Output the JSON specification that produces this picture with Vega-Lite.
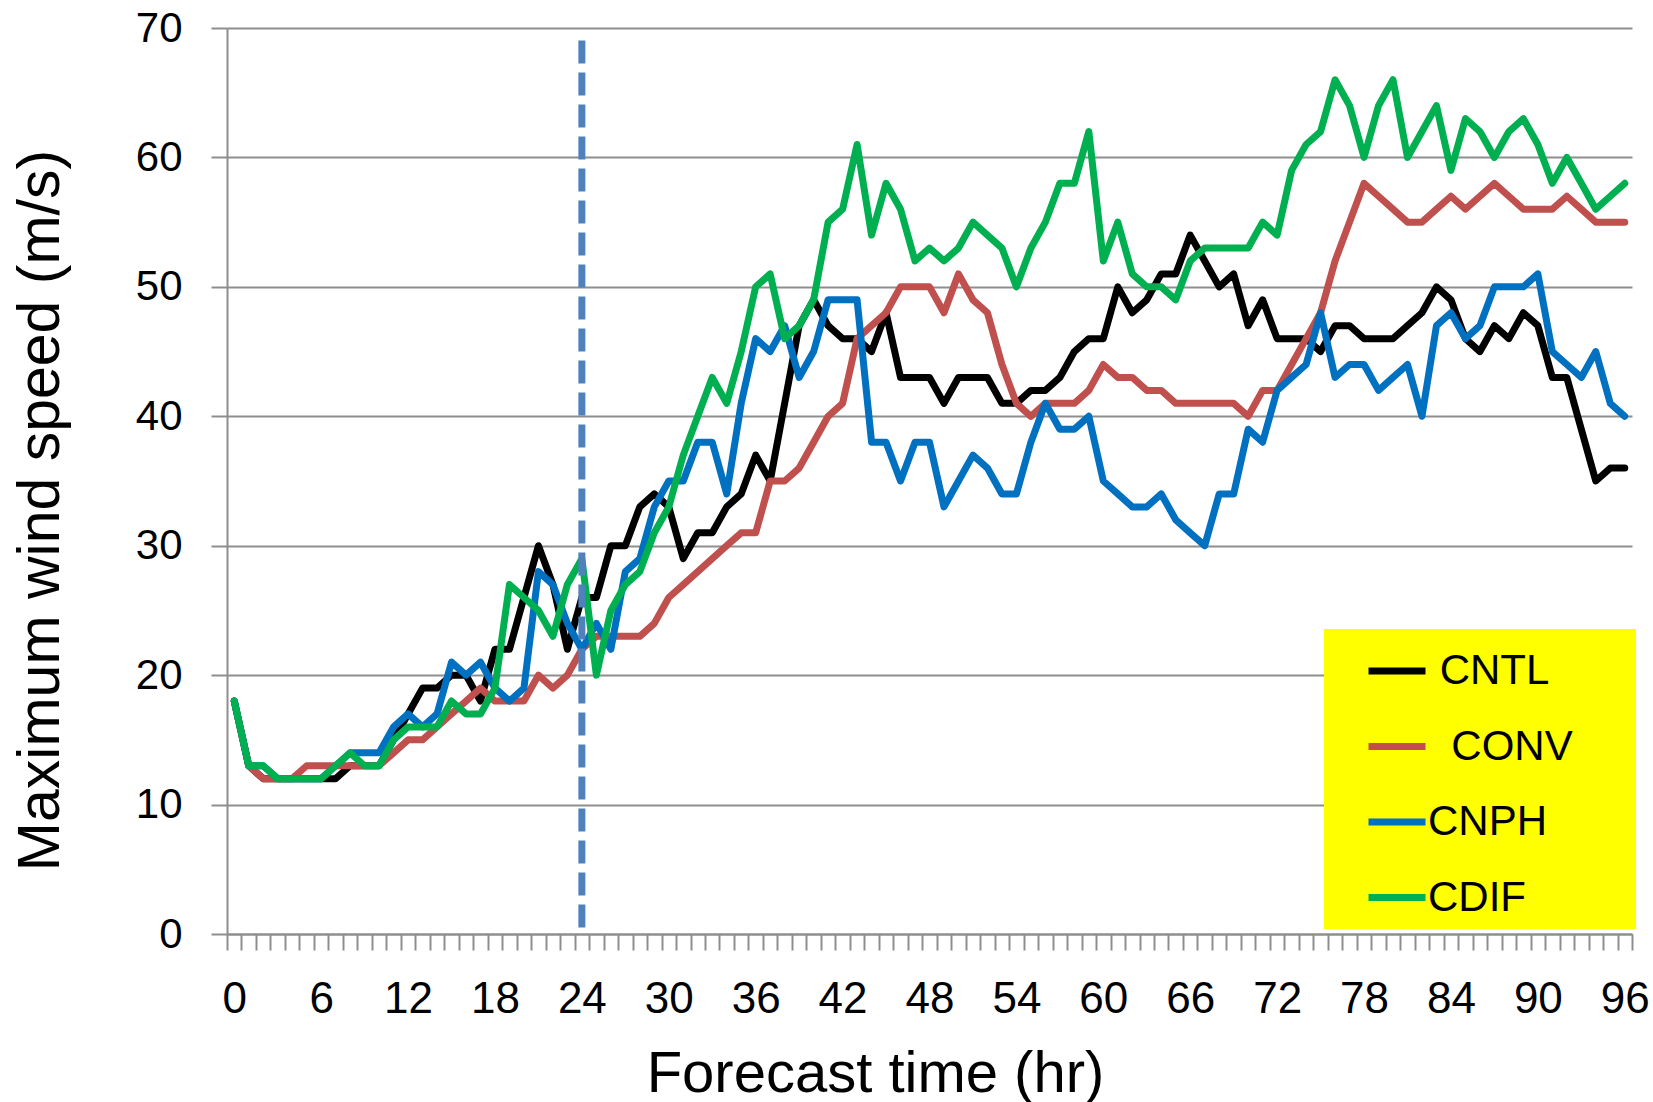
{
  "$schema": "https://vega.github.io/schema/vega-lite/v6.json",
  "width": 1405,
  "height": 906,
  "autosize": {"type": "none"},
  "padding": {"left": 227, "top": 28, "right": 21, "bottom": 168},
  "background": "white",
  "config": {"view": {"stroke": null}, "font": "Liberation Sans"},
  "data": {"values": [
    {"hour":0,"CNTL":18,"CONV":18,"CNPH":18,"CDIF":18},
    {"hour":1,"CNTL":13,"CONV":13,"CNPH":13,"CDIF":13},
    {"hour":2,"CNTL":12,"CONV":12,"CNPH":13,"CDIF":13},
    {"hour":3,"CNTL":12,"CONV":12,"CNPH":12,"CDIF":12},
    {"hour":4,"CNTL":12,"CONV":12,"CNPH":12,"CDIF":12},
    {"hour":5,"CNTL":12,"CONV":13,"CNPH":12,"CDIF":12},
    {"hour":6,"CNTL":12,"CONV":13,"CNPH":12,"CDIF":12},
    {"hour":7,"CNTL":12,"CONV":13,"CNPH":13,"CDIF":13},
    {"hour":8,"CNTL":13,"CONV":13,"CNPH":14,"CDIF":14},
    {"hour":9,"CNTL":13,"CONV":13,"CNPH":14,"CDIF":13},
    {"hour":10,"CNTL":13,"CONV":13,"CNPH":14,"CDIF":13},
    {"hour":11,"CNTL":15,"CONV":14,"CNPH":16,"CDIF":15},
    {"hour":12,"CNTL":17,"CONV":15,"CNPH":17,"CDIF":16},
    {"hour":13,"CNTL":19,"CONV":15,"CNPH":16,"CDIF":16},
    {"hour":14,"CNTL":19,"CONV":16,"CNPH":17,"CDIF":16},
    {"hour":15,"CNTL":20,"CONV":17,"CNPH":21,"CDIF":18},
    {"hour":16,"CNTL":20,"CONV":18,"CNPH":20,"CDIF":17},
    {"hour":17,"CNTL":18,"CONV":19,"CNPH":21,"CDIF":17},
    {"hour":18,"CNTL":22,"CONV":18,"CNPH":19,"CDIF":19},
    {"hour":19,"CNTL":22,"CONV":18,"CNPH":18,"CDIF":27},
    {"hour":20,"CNTL":26,"CONV":18,"CNPH":19,"CDIF":26},
    {"hour":21,"CNTL":30,"CONV":20,"CNPH":28,"CDIF":25},
    {"hour":22,"CNTL":27,"CONV":19,"CNPH":27,"CDIF":23},
    {"hour":23,"CNTL":22,"CONV":20,"CNPH":24,"CDIF":27},
    {"hour":24,"CNTL":26,"CONV":22,"CNPH":22,"CDIF":29},
    {"hour":25,"CNTL":26,"CONV":23,"CNPH":24,"CDIF":20},
    {"hour":26,"CNTL":30,"CONV":23,"CNPH":22,"CDIF":25},
    {"hour":27,"CNTL":30,"CONV":23,"CNPH":28,"CDIF":27},
    {"hour":28,"CNTL":33,"CONV":23,"CNPH":29,"CDIF":28},
    {"hour":29,"CNTL":34,"CONV":24,"CNPH":33,"CDIF":31},
    {"hour":30,"CNTL":33,"CONV":26,"CNPH":35,"CDIF":33},
    {"hour":31,"CNTL":29,"CONV":27,"CNPH":35,"CDIF":37},
    {"hour":32,"CNTL":31,"CONV":28,"CNPH":38,"CDIF":40},
    {"hour":33,"CNTL":31,"CONV":29,"CNPH":38,"CDIF":43},
    {"hour":34,"CNTL":33,"CONV":30,"CNPH":34,"CDIF":41},
    {"hour":35,"CNTL":34,"CONV":31,"CNPH":41,"CDIF":45},
    {"hour":36,"CNTL":37,"CONV":31,"CNPH":46,"CDIF":50},
    {"hour":37,"CNTL":35,"CONV":35,"CNPH":45,"CDIF":51},
    {"hour":38,"CNTL":41,"CONV":35,"CNPH":47,"CDIF":46},
    {"hour":39,"CNTL":47,"CONV":36,"CNPH":43,"CDIF":47},
    {"hour":40,"CNTL":49,"CONV":38,"CNPH":45,"CDIF":49},
    {"hour":41,"CNTL":47,"CONV":40,"CNPH":49,"CDIF":55},
    {"hour":42,"CNTL":46,"CONV":41,"CNPH":49,"CDIF":56},
    {"hour":43,"CNTL":46,"CONV":46,"CNPH":49,"CDIF":61},
    {"hour":44,"CNTL":45,"CONV":47,"CNPH":38,"CDIF":54},
    {"hour":45,"CNTL":48,"CONV":48,"CNPH":38,"CDIF":58},
    {"hour":46,"CNTL":43,"CONV":50,"CNPH":35,"CDIF":56},
    {"hour":47,"CNTL":43,"CONV":50,"CNPH":38,"CDIF":52},
    {"hour":48,"CNTL":43,"CONV":50,"CNPH":38,"CDIF":53},
    {"hour":49,"CNTL":41,"CONV":48,"CNPH":33,"CDIF":52},
    {"hour":50,"CNTL":43,"CONV":51,"CNPH":35,"CDIF":53},
    {"hour":51,"CNTL":43,"CONV":49,"CNPH":37,"CDIF":55},
    {"hour":52,"CNTL":43,"CONV":48,"CNPH":36,"CDIF":54},
    {"hour":53,"CNTL":41,"CONV":44,"CNPH":34,"CDIF":53},
    {"hour":54,"CNTL":41,"CONV":41,"CNPH":34,"CDIF":50},
    {"hour":55,"CNTL":42,"CONV":40,"CNPH":38,"CDIF":53},
    {"hour":56,"CNTL":42,"CONV":41,"CNPH":41,"CDIF":55},
    {"hour":57,"CNTL":43,"CONV":41,"CNPH":39,"CDIF":58},
    {"hour":58,"CNTL":45,"CONV":41,"CNPH":39,"CDIF":58},
    {"hour":59,"CNTL":46,"CONV":42,"CNPH":40,"CDIF":62},
    {"hour":60,"CNTL":46,"CONV":44,"CNPH":35,"CDIF":52},
    {"hour":61,"CNTL":50,"CONV":43,"CNPH":34,"CDIF":55},
    {"hour":62,"CNTL":48,"CONV":43,"CNPH":33,"CDIF":51},
    {"hour":63,"CNTL":49,"CONV":42,"CNPH":33,"CDIF":50},
    {"hour":64,"CNTL":51,"CONV":42,"CNPH":34,"CDIF":50},
    {"hour":65,"CNTL":51,"CONV":41,"CNPH":32,"CDIF":49},
    {"hour":66,"CNTL":54,"CONV":41,"CNPH":31,"CDIF":52},
    {"hour":67,"CNTL":52,"CONV":41,"CNPH":30,"CDIF":53},
    {"hour":68,"CNTL":50,"CONV":41,"CNPH":34,"CDIF":53},
    {"hour":69,"CNTL":51,"CONV":41,"CNPH":34,"CDIF":53},
    {"hour":70,"CNTL":47,"CONV":40,"CNPH":39,"CDIF":53},
    {"hour":71,"CNTL":49,"CONV":42,"CNPH":38,"CDIF":55},
    {"hour":72,"CNTL":46,"CONV":42,"CNPH":42,"CDIF":54},
    {"hour":73,"CNTL":46,"CONV":44,"CNPH":43,"CDIF":59},
    {"hour":74,"CNTL":46,"CONV":46,"CNPH":44,"CDIF":61},
    {"hour":75,"CNTL":45,"CONV":48,"CNPH":48,"CDIF":62},
    {"hour":76,"CNTL":47,"CONV":52,"CNPH":43,"CDIF":66},
    {"hour":77,"CNTL":47,"CONV":55,"CNPH":44,"CDIF":64},
    {"hour":78,"CNTL":46,"CONV":58,"CNPH":44,"CDIF":60},
    {"hour":79,"CNTL":46,"CONV":57,"CNPH":42,"CDIF":64},
    {"hour":80,"CNTL":46,"CONV":56,"CNPH":43,"CDIF":66},
    {"hour":81,"CNTL":47,"CONV":55,"CNPH":44,"CDIF":60},
    {"hour":82,"CNTL":48,"CONV":55,"CNPH":40,"CDIF":62},
    {"hour":83,"CNTL":50,"CONV":56,"CNPH":47,"CDIF":64},
    {"hour":84,"CNTL":49,"CONV":57,"CNPH":48,"CDIF":59},
    {"hour":85,"CNTL":46,"CONV":56,"CNPH":46,"CDIF":63},
    {"hour":86,"CNTL":45,"CONV":57,"CNPH":47,"CDIF":62},
    {"hour":87,"CNTL":47,"CONV":58,"CNPH":50,"CDIF":60},
    {"hour":88,"CNTL":46,"CONV":57,"CNPH":50,"CDIF":62},
    {"hour":89,"CNTL":48,"CONV":56,"CNPH":50,"CDIF":63},
    {"hour":90,"CNTL":47,"CONV":56,"CNPH":51,"CDIF":61},
    {"hour":91,"CNTL":43,"CONV":56,"CNPH":45,"CDIF":58},
    {"hour":92,"CNTL":43,"CONV":57,"CNPH":44,"CDIF":60},
    {"hour":93,"CNTL":39,"CONV":56,"CNPH":43,"CDIF":58},
    {"hour":94,"CNTL":35,"CONV":55,"CNPH":45,"CDIF":56},
    {"hour":95,"CNTL":36,"CONV":55,"CNPH":41,"CDIF":57},
    {"hour":96,"CNTL":36,"CONV":55,"CNPH":40,"CDIF":58}
  ]},
  "layer": [
    {
      "transform": [{"fold": ["CNTL", "CONV", "CNPH", "CDIF"], "as": ["series", "speed"]}],
      "mark": {"type": "line", "strokeWidth": 7, "strokeJoin": "round", "strokeCap": "round"},
      "encoding": {
        "x": {
          "field": "hour", "type": "quantitative",
          "scale": {"domain": [-0.5, 96.5], "nice": false, "zero": false},
          "axis": {
            "orient": "bottom",
            "values": [0, 6, 12, 18, 24, 30, 36, 42, 48, 54, 60, 66, 72, 78, 84, 90, 96],
            "ticks": false, "domain": false, "grid": false,
            "labelFont": "Liberation Sans", "labelFontSize": 44, "labelColor": "#000000",
            "labelPadding": 43, "labelFlush": false, "labelOverlap": false,
            "title": "Forecast time (hr)", "titleFont": "Liberation Sans", "titleFontSize": 58,
            "titleFontWeight": "normal", "titleColor": "#000000",
            "titleX": 648, "titleY": 157, "titleAlign": "center", "titleBaseline": "alphabetic"
          }
        },
        "y": {
          "field": "speed", "type": "quantitative",
          "scale": {"domain": [0, 70], "nice": false, "zero": true},
          "axis": {
            "values": [0, 10, 20, 30, 40, 50, 60, 70],
            "grid": true, "gridColor": "#8E8E8E", "gridWidth": 2,
            "domainColor": "#8E8E8E", "domainWidth": 2,
            "tickColor": "#8E8E8E", "tickWidth": 2, "tickSize": 16,
            "labelFont": "Liberation Sans", "labelFontSize": 42, "labelColor": "#000000", "labelPadding": 29,
            "title": "Maximum wind speed (m/s)", "titleFont": "Liberation Sans", "titleFontSize": 59,
            "titleFontWeight": "normal", "titleColor": "#000000",
            "titleX": -169, "titleY": 482, "titleAngle": -90, "titleAlign": "center", "titleBaseline": "alphabetic"
          }
        },
        "color": {
          "field": "series", "type": "nominal",
          "scale": {"domain": ["CNTL", "CONV", "CNPH", "CDIF"], "range": ["#000000", "#C0504D", "#0070C0", "#00B050"]},
          "legend": {
            "title": null, "orient": "none", "legendX": 1097, "legendY": 601,
            "direction": "vertical",
            "fillColor": "#FFFF00", "strokeColor": null, "padding": 10,
            "symbolType": "stroke", "symbolSize": 3249, "symbolStrokeWidth": 7, "symbolOffset": 31,
            "labelOffset": -1, "labelFont": "Liberation Sans", "labelFontSize": 42, "labelColor": "#000000",
            "labelLimit": 500, "rowPadding": 22.5,
            "labelExpr": "datum.label == 'CONV' ? '\u200b\u00a0\u00a0CONV' : datum.label == 'CNTL' ? '\u200b\u00a0CNTL' : datum.label == 'CNPH' ? 'CNPH\u00a0\u00a0\u00a0\u00a0\u00a0\u00a0\u2009\u200b' : datum.label"
          }
        }
      }
    },
    {
      "data": {"values": [{"hour": 24}]},
      "mark": {"type": "rule", "color": "#4F81BD", "strokeWidth": 7, "strokeDash": [23, 9]},
      "encoding": {
        "x": {
          "field": "hour", "type": "quantitative",
          "axis": {
            "orient": "bottom",
            "values": [-0.5,0.5,1.5,2.5,3.5,4.5,5.5,6.5,7.5,8.5,9.5,10.5,11.5,12.5,13.5,14.5,15.5,16.5,17.5,18.5,19.5,20.5,21.5,22.5,23.5,24.5,25.5,26.5,27.5,28.5,29.5,30.5,31.5,32.5,33.5,34.5,35.5,36.5,37.5,38.5,39.5,40.5,41.5,42.5,43.5,44.5,45.5,46.5,47.5,48.5,49.5,50.5,51.5,52.5,53.5,54.5,55.5,56.5,57.5,58.5,59.5,60.5,61.5,62.5,63.5,64.5,65.5,66.5,67.5,68.5,69.5,70.5,71.5,72.5,73.5,74.5,75.5,76.5,77.5,78.5,79.5,80.5,81.5,82.5,83.5,84.5,85.5,86.5,87.5,88.5,89.5,90.5,91.5,92.5,93.5,94.5,95.5,96.5],
            "labels": false, "grid": false, "title": null,
            "ticks": true, "tickSize": 16, "tickColor": "#8E8E8E", "tickWidth": 2,
            "domain": true, "domainColor": "#8E8E8E", "domainWidth": 2
          }
        },
        "y": {"datum": 0.5, "type": "quantitative", "axis": {"title": "Maximum wind speed (m/s)"}},
        "y2": {"datum": 69.3}
      }
    }
  ],
  "resolve": {"axis": {"x": "independent"}}
}
